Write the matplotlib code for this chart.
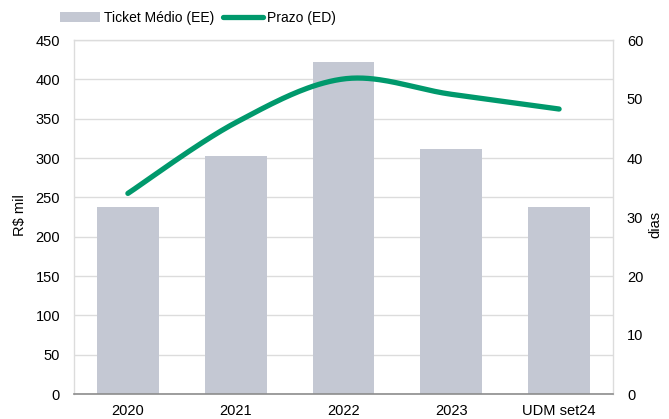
import numpy as np
import matplotlib
matplotlib.use("Agg")
import matplotlib.pyplot as plt
from matplotlib.lines import Line2D
from matplotlib.patches import Patch

categories = ["2020", "2021", "2022", "2023", "UDM set24"]
ticket_medio = [238, 303, 422, 311, 238]
prazo = [34.0, 46.0, 53.4, 50.8, 48.3]
left_ticks = [0, 50, 100, 150, 200, 250, 300, 350, 400, 450]
right_ticks = [0, 10, 20, 30, 40, 50, 60]

BAR_C = "#c4c8d3"
LINE_C = "#00996c"
GRID_C = "#dcdcdc"
FS = 10.5

plt.rcParams["font.family"] = ["Liberation Sans", "DejaVu Sans"]


def smooth(xs, ys, n=40):
    # Catmull-Rom style smoothing (Excel "smoothed line")
    xs = np.asarray(xs, float)
    ys = np.asarray(ys, float)
    px = np.concatenate([[xs[0]], xs, [xs[-1]]])
    py = np.concatenate([[ys[0]], ys, [ys[-1]]])
    ox, oy = [], []
    t = np.linspace(0, 1, n)
    for i in range(1, len(px) - 2):
        p0 = np.array([px[i], py[i]])
        p3 = np.array([px[i + 1], py[i + 1]])
        c1 = p0 + (np.array([px[i + 1], py[i + 1]]) - np.array([px[i - 1], py[i - 1]])) / 6
        c2 = p3 - (np.array([px[i + 2], py[i + 2]]) - np.array([px[i], py[i]])) / 6
        b = ((1 - t) ** 3)[:, None] * p0 + (3 * (1 - t) ** 2 * t)[:, None] * c1 \
            + (3 * (1 - t) * t ** 2)[:, None] * c2 + (t ** 3)[:, None] * p3
        ox.extend(b[:, 0])
        oy.extend(b[:, 1])
    return np.array(ox), np.array(oy)


fig = plt.figure(figsize=(6.69, 4.19), dpi=100)
ax = fig.add_axes([74 / 669, 1 - 394 / 419, (613 - 74) / 669, (394 - 40) / 419])
x = np.arange(len(categories))
ax.bar(x, ticket_medio, width=0.575, color=BAR_C, zorder=2)
ax.set_xlim(-0.5, len(categories) - 0.5)
ax.set_ylim(0, 450)
ax.set_yticks(left_ticks)
ax.set_xticks(x)
ax.set_xticklabels(categories)
ax.grid(axis="y", color=GRID_C, linewidth=1, zorder=0)
for s in ["left", "right", "top"]:
    ax.spines[s].set_color(GRID_C)
    ax.spines[s].set_linewidth(1)
ax.spines["bottom"].set_color("#8c8c8c")
ax.spines["bottom"].set_linewidth(1.2)
ax.tick_params(axis="both", length=0, labelsize=FS, colors="black")
ax.tick_params(axis="y", pad=10)
ax.tick_params(axis="x", pad=7)

ax2 = ax.twinx()
ax2.set_ylim(0, 60)
ax2.set_yticks(right_ticks)
sx, sy = smooth(x, prazo)
ax2.plot(sx, sy, color=LINE_C, linewidth=3.8, solid_capstyle="round", zorder=3)
for s in ax2.spines.values():
    s.set_visible(False)
ax2.tick_params(axis="y", length=0, labelsize=FS, pad=10)

fig.text(20 / 669, 1 - 215 / 419, "R$ mil", rotation=90, ha="center", va="center", fontsize=FS)
fig.text(655 / 669, 1 - 224 / 419, "dias", rotation=90, ha="center", va="center", fontsize=FS)

handles = [Patch(facecolor=BAR_C, edgecolor="none"),
           Line2D([0], [0], color=LINE_C, linewidth=3.8, solid_capstyle="round")]
fig.legend(handles, ["Ticket Médio (EE)", "Prazo (ED)"], loc="center left",
           bbox_to_anchor=(60 / 669, 1 - 18 / 419), ncol=2, frameon=False,
           fontsize=10, handlelength=2.9, handleheight=0.65, handletextpad=0.3,
           columnspacing=0.6, borderaxespad=0, borderpad=0)

fig.savefig("out.png", dpi=100)
